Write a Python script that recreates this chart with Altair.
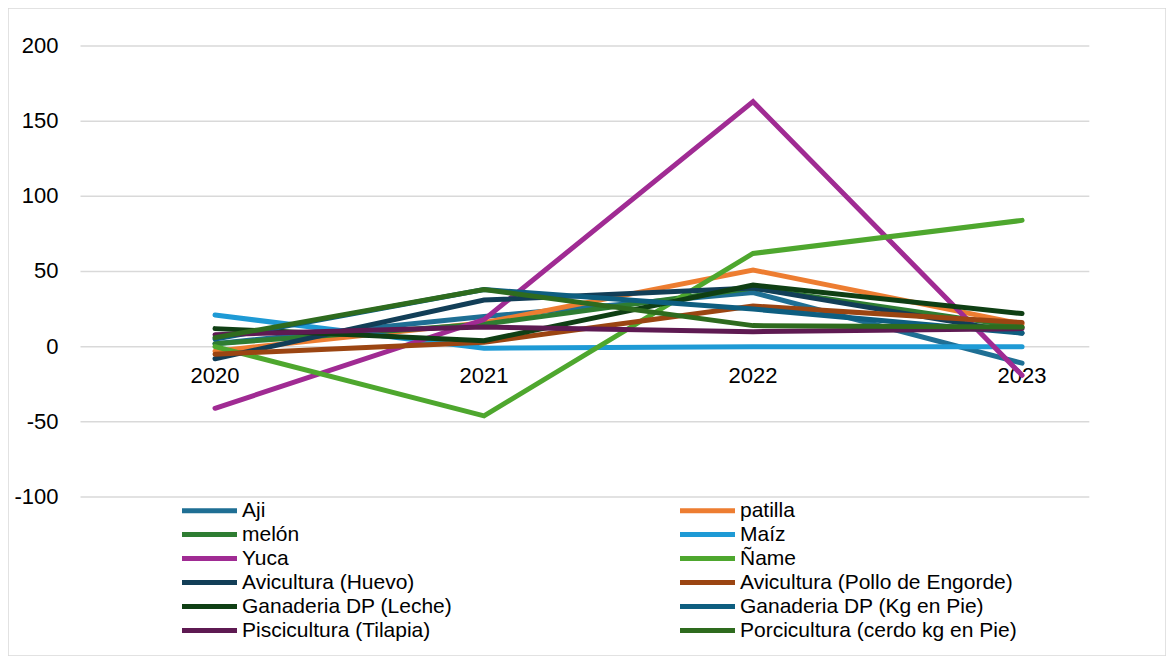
import altair as alt
import pandas as pd

years = [2020, 2021, 2022, 2023]
series = ["Aji", "patilla", "\u00a0melón", "Maíz", "Yuca", "Ñame",
          "Avicultura (Huevo)", "Avicultura (Pollo de Engorde)",
          "Ganaderia DP (Leche)", "Ganaderia DP (Kg en Pie)",
          "Piscicultura (Tilapia)", "Porcicultura (cerdo kg en Pie)"]
colors = ["#1f6f94", "#ed7d31", "#2e7d32", "#1e9ad5", "#a02b93", "#4ea72e",
          "#123e57", "#9b4512", "#0f3f14", "#0e5e80", "#5e1a52", "#2e6b1e"]

aji = [2, 20, 36, -11]
patilla = [-3, 16, 51, 15]
melon = [2, 15, 39, 13]
maiz = [21, -1, 0, 0]
yuca = [-41, 18, 163, -19]
name = [0, -46, 62, 84]
huevo = [-8, 31, 39, 9]
pollo = [-5, 3, 27, 16]
leche = [12, 4, 41, 22]
kg = [5, 38, 25, 9]
pisc = [8, 13, 10, 12]
porc = [6, 38, 14, 13]
all_vals = [aji, patilla, melon, maiz, yuca, name, huevo, pollo, leche, kg, pisc, porc]

y_ticks = [200, 150, 100, 50, 0, -50, -100]
y_tick_labels = ["200", "150", "100", "50", "0", "-50", "-100"]
year_labels = ["2020", "2021", "2022", "2023"]

rows = []
for s, vals in zip(series, all_vals):
    for yr, v in zip(years, vals):
        rows.append({"serie": s, "year": yr, "value": v})
df = pd.DataFrame(rows)

grid_df = pd.DataFrame({"v": y_ticks, "lab": y_tick_labels,
                        "x0": [2019.5] * len(y_ticks), "x1": [2023.25] * len(y_ticks)})
xlab_df = pd.DataFrame({"year": years, "lab": year_labels, "v": [0] * len(years)})

xscale = alt.Scale(domain=[2019.2305, 2023.535], nice=False, zero=False)
yscale = alt.Scale(domain=[-205.77, 225.28], nice=False, zero=False)
FONT = "Liberation Sans"

grid = alt.Chart(grid_df).mark_rule(color="#d9d9d9", strokeWidth=1.5).encode(
    x=alt.X("x0:Q", scale=xscale, axis=None),
    x2="x1:Q",
    y=alt.Y("v:Q", scale=yscale, axis=None),
)

ylab = alt.Chart(grid_df).mark_text(
    align="right", baseline="middle", dx=-22, fontSize=22, font=FONT, color="black"
).encode(
    x=alt.X("x0:Q", scale=xscale, axis=None),
    y=alt.Y("v:Q", scale=yscale, axis=None),
    text="lab:N",
)

xlab = alt.Chart(xlab_df).mark_text(
    align="center", baseline="middle", dy=29, fontSize=22, font=FONT, color="black"
).encode(
    x=alt.X("year:Q", scale=xscale, axis=None),
    y=alt.Y("v:Q", scale=yscale, axis=None),
    text="lab:N",
)

lines = alt.Chart(df).mark_line(strokeWidth=5, strokeCap="round").encode(
    x=alt.X("year:Q", scale=xscale, axis=None),
    y=alt.Y("value:Q", scale=yscale, axis=None),
    color=alt.Color(
        "serie:N",
        scale=alt.Scale(domain=series, range=colors),
        sort=series,
        legend=alt.Legend(
            title=None, orient="none", legendX=191, legendY=492, columns=2,
            direction="horizontal",
            symbolType="M-5,0H5", symbolSize=121, symbolStrokeWidth=5,
            labelFontSize=21, labelFont=FONT, labelColor="black",
            columnPadding=217, rowPadding=2, labelOffset=22,
            symbolLimit=0, labelLimit=0,
        ),
    ),
    detail="serie:N",
)

chart = alt.layer(grid, xlab, ylab, lines).properties(
    width=1158, height=648, padding=0, autosize=alt.AutoSizeParams(type="none"),
    background="white",
).configure_view(stroke="#d9d9d9", strokeWidth=1.5)

chart.save("out.html", embed_options={"renderer": "svg", "actions": False})
